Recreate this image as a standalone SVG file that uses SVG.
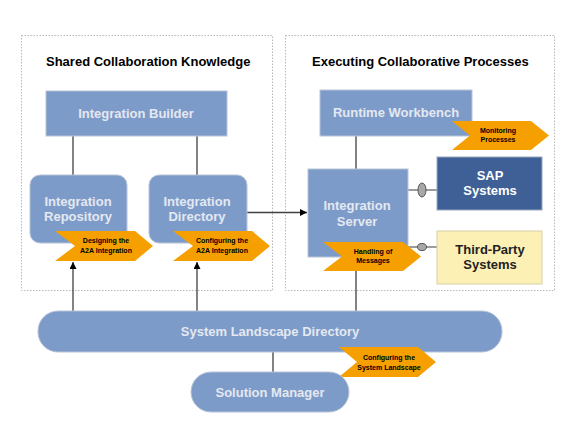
<svg xmlns="http://www.w3.org/2000/svg" width="581" height="436" viewBox="0 0 581 436">
<defs>
<style>
.panel{fill:#fff;stroke:#b8b8b8;stroke-width:1;stroke-dasharray:1.5 1.5}
.title{font-family:"Liberation Sans",Arial,sans-serif;font-weight:bold;font-size:13px;fill:#000}
.node{fill:#7d9bc9;stroke:#b8c4d8;stroke-width:1}
.nt{font-family:"Liberation Sans",Arial,sans-serif;font-weight:bold;font-size:13px;fill:#e4e8f0;text-anchor:middle}
.ar{fill:#f5a000}
.at{font-family:"Liberation Sans",Arial,sans-serif;font-weight:bold;font-size:7px;fill:#000;text-anchor:middle}
.ln{stroke:#404040;stroke-width:1.3;fill:none}
</style>
<marker id="ah" viewBox="0 0 10 10" refX="10" refY="5" markerWidth="7" markerHeight="7" orient="auto" markerUnits="userSpaceOnUse">
<path d="M0,0 L10,5 L0,10 z" fill="#000"/>
</marker>
</defs>
<rect width="581" height="436" fill="#fff"/>
<g id="panel-left">
<rect class="panel" x="21.5" y="35.5" width="251" height="255"/>
<text class="title" x="46" y="66">Shared Collaboration Knowledge</text>
</g>
<g id="panel-right">
<rect class="panel" x="285.5" y="35.5" width="269" height="255"/>
<text class="title" x="312" y="66">Executing Collaborative Processes</text>
</g>
<g id="connectors">
<line class="ln" x1="73" y1="136" x2="73" y2="176"/>
<line class="ln" x1="197" y1="136" x2="197" y2="176"/>
<line class="ln" x1="247" y1="212.5" x2="307" y2="212.5" marker-end="url(#ah)"/>
<line class="ln" x1="356" y1="136" x2="356" y2="169"/>
<line class="ln" x1="356" y1="257" x2="356" y2="312"/>
<line class="ln" x1="73" y1="312" x2="73" y2="262" marker-end="url(#ah)"/>
<line class="ln" x1="197" y1="312" x2="197" y2="262" marker-end="url(#ah)"/>
<line class="ln" x1="273" y1="352" x2="273" y2="372"/>
<line stroke="#666" stroke-width="1.3" x1="408" y1="190" x2="437" y2="190"/>
<ellipse cx="422" cy="190" rx="4" ry="7" fill="#a8a8a8" stroke="#555" stroke-width="1"/>
<line stroke="#666" stroke-width="1.3" x1="408" y1="247" x2="437" y2="247"/>
<ellipse cx="422" cy="247" rx="4.5" ry="3.5" fill="#a8a8a8" stroke="#555" stroke-width="1"/>
</g>
<g id="integration-builder">
<rect class="node" x="46" y="91" width="181" height="45"/>
<text class="nt" x="136" y="118">Integration Builder</text>
</g>
<g id="integration-repository">
<rect class="node" x="30" y="175" width="97" height="68" rx="10"/>
<text class="nt" x="78" y="206">Integration</text>
<text class="nt" x="78" y="221">Repository</text>
</g>
<g id="designing">
<polygon class="ar" points="55,231 135,231 153,246 135,261 55,261 75,246"/>
<text class="at" x="106" y="243">Designing the</text>
<text class="at" x="106" y="253">A2A Integration</text>
</g>
<g id="integration-directory">
<rect class="node" x="149" y="175" width="98" height="68" rx="10"/>
<text class="nt" x="197" y="206">Integration</text>
<text class="nt" x="197" y="221">Directory</text>
</g>
<g id="configuring-a2a">
<polygon class="ar" points="173,231 252,231 270,246 252,261 173,261 193,246"/>
<text class="at" x="222" y="243">Configuring the</text>
<text class="at" x="222" y="253">A2A Integration</text>
</g>
<g id="runtime-workbench">
<rect class="node" x="320" y="90" width="152" height="46"/>
<text class="nt" x="396" y="117">Runtime Workbench</text>
</g>
<g id="monitoring">
<polygon class="ar" points="452,121 531,121 549,135.5 531,150 452,150 470,135.5"/>
<text class="at" x="498" y="133">Monitoring</text>
<text class="at" x="498" y="142">Processes</text>
</g>
<g id="integration-server">
<rect class="node" x="308" y="169" width="100" height="88"/>
<text class="nt" x="357" y="210">Integration</text>
<text class="nt" x="357" y="226">Server</text>
</g>
<g id="handling">
<polygon class="ar" points="323,242 403,242 421,256.5 403,271 323,271 342,256.5"/>
<text class="at" x="373" y="254">Handling of</text>
<text class="at" x="373" y="263">Messages</text>
</g>
<g id="sap-systems">
<rect x="437" y="157" width="105" height="53" fill="#3f6096" stroke="#9aa8c0" stroke-width="1"/>
<text class="nt" x="490" y="180" style="fill:#fff">SAP</text>
<text class="nt" x="490" y="195" style="fill:#fff">Systems</text>
</g>
<g id="third-party-systems">
<rect x="437" y="231" width="105" height="53" fill="#fdf0b4" stroke="#d8d0a8" stroke-width="1"/>
<text class="nt" x="490" y="254" style="fill:#222">Third-Party</text>
<text class="nt" x="490" y="269" style="fill:#222">Systems</text>
</g>
<g id="system-landscape-directory">
<rect class="node" x="38" y="311" width="464" height="41" rx="20"/>
<text class="nt" x="270" y="336">System Landscape Directory</text>
</g>
<g id="configuring-landscape">
<polygon class="ar" points="339,347 418,347 436,362 418,377 339,377 357,362"/>
<text class="at" x="389" y="360">Configuring the</text>
<text class="at" x="389" y="370">System Landscape</text>
</g>
<g id="solution-manager">
<rect class="node" x="191" y="372" width="158" height="40" rx="20"/>
<text class="nt" x="270" y="397">Solution Manager</text>
</g>
</svg>
